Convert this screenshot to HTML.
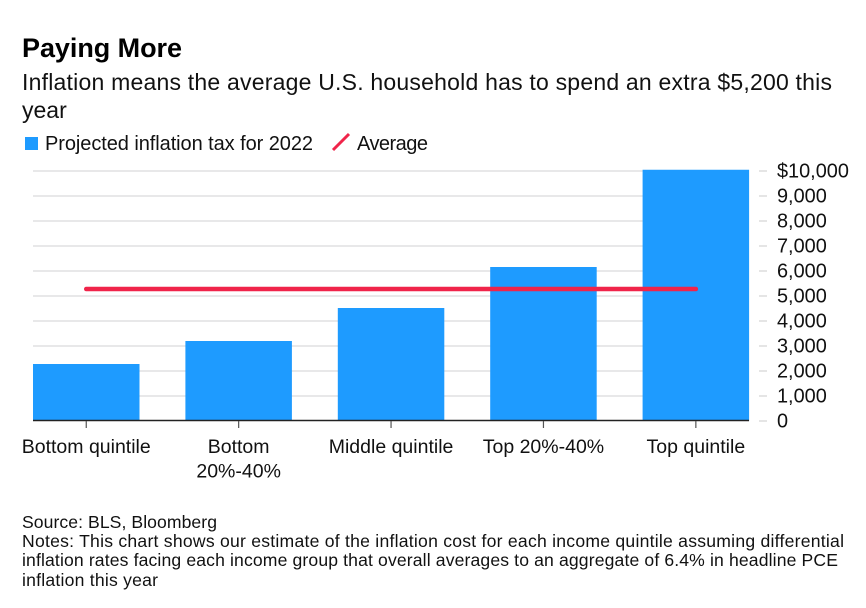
<!DOCTYPE html>
<html lang="en">
<head>
<meta charset="utf-8">
<title>Paying More</title>
<style>
html,body{margin:0;padding:0;background:#fff;}
body{width:866px;height:608px;overflow:hidden;position:relative;font-family:"Liberation Sans",Arial,sans-serif;color:#000;}
svg{position:absolute;left:0;top:0;}
text{font-family:"Liberation Sans",Arial,sans-serif;fill:#111;}
</style>
</head>
<body>
<svg id="chart" width="866" height="608" viewBox="0 0 866 608">
  <text x="22" y="57" font-size="27" font-weight="700" textLength="160" lengthAdjust="spacing" style="fill:#000">Paying More</text>
  <text x="22" y="90" font-size="23" textLength="810" lengthAdjust="spacing">Inflation means the average U.S. household has to spend an extra $5,200 this</text>
  <text x="22" y="118" font-size="23">year</text>
  <rect x="25" y="137" width="13" height="13" fill="#1e9bff"></rect>
  <text x="45" y="150" font-size="20" textLength="268" lengthAdjust="spacing">Projected inflation tax for 2022</text>
  <line x1="333" y1="150" x2="349" y2="134" stroke="#f0244a" stroke-width="3"></line>
  <text x="357" y="150" font-size="20" textLength="71" lengthAdjust="spacing">Average</text>
  <g id="grid"></g>
  <g id="bars"></g>
  <g id="xaxis"></g>
  <g id="yaxis"></g>
  <g id="avg"></g>
  <text x="22" y="528" font-size="17.6" textLength="195" lengthAdjust="spacing">Source: BLS, Bloomberg</text>
  <text x="22" y="547" font-size="17.6" textLength="822" lengthAdjust="spacing">Notes: This chart shows our estimate of the inflation cost for each income quintile assuming differential</text>
  <text x="22" y="566" font-size="17.6" textLength="816" lengthAdjust="spacing">inflation rates facing each income group that overall averages to an aggregate of 6.4% in headline PCE</text>
  <text x="22" y="586" font-size="17.6" textLength="136" lengthAdjust="spacing">inflation this year</text>
</svg>
<script>
var categories = [["Bottom quintile"], ["Bottom", "20%-40%"], ["Middle quintile"], ["Top 20%-40%"], ["Top quintile"]];
var barValues = [2280, 3200, 4520, 6160, 10050];
var averageValue = 5280;
var yTicks = [0, 1000, 2000, 3000, 4000, 5000, 6000, 7000, 8000, 9000, 10000];
var yTickLabels = ["0", "1,000", "2,000", "3,000", "4,000", "5,000", "6,000", "7,000", "8,000", "9,000", "$10,000"];

var NS = "http://www.w3.org/2000/svg";
var plotLeft = 33, plotRight = 749, plotBottom = 421, plotTop = 171;
var yMax = 10000;
var bandStep = (plotRight - plotLeft + 46) / categories.length;
var barWidth = 106.5;

function yScale(v) { return plotBottom - (v / yMax) * (plotBottom - plotTop); }
function xCenter(i) { return plotLeft + barWidth / 2 + i * bandStep; }
function make(tag, attrs, parent) {
  var el = document.createElementNS(NS, tag);
  for (var k in attrs) el.setAttribute(k, attrs[k]);
  parent.appendChild(el);
  return el;
}

var gridG = document.getElementById("grid");
var barsG = document.getElementById("bars");
var xG = document.getElementById("xaxis");
var yG = document.getElementById("yaxis");
var avgG = document.getElementById("avg");

yTicks.forEach(function (t, i) {
  var y = yScale(t);
  if (t !== 0) {
    var g = make("line", {x1: plotLeft, x2: plotRight, y1: y, y2: y, stroke: "#e0e0e2", "stroke-width": 1.5}, gridG);
    
    
  }
  var tick = make("line", {x1: 759, x2: 767, y1: y, y2: y, stroke: "#dcdcdc", "stroke-width": 1.5}, yG);
  
  
  var label = make("text", {x: 777, y: y + 6.5, "font-size": 19.9}, yG);
  
  
  label.textContent = yTickLabels[i];
});

var axisLine = make("line", {x1: plotLeft, x2: plotRight, y1: plotBottom - 0.5, y2: plotBottom - 0.5, stroke: "#222", "stroke-width": 1.5}, xG);



categories.forEach(function (lines, i) {
  var cx = xCenter(i);
  var y = yScale(barValues[i]);
  var bar = make("rect", {x: cx - barWidth / 2, y: y, width: barWidth, height: plotBottom - y, fill: "#1e9bff"}, barsG);
  
  
  var tick = make("line", {x1: cx, x2: cx, y1: plotBottom, y2: plotBottom + 7, stroke: "#555", "stroke-width": 1.2}, xG);
  
  
  lines.forEach(function (line, j) {
    var label = make("text", {x: cx, y: 453 + j * 24.5, "font-size": 19.5, "text-anchor": "middle"}, xG);
    
    
    label.textContent = line;
  });
});

var avgLine = make("line", {
  x1: xCenter(0), x2: xCenter(categories.length - 1),
  y1: yScale(averageValue), y2: yScale(averageValue),
  stroke: "#f0244a", "stroke-width": 4.5, "stroke-linecap": "round"
}, avgG);


</script>
</body>
</html>
